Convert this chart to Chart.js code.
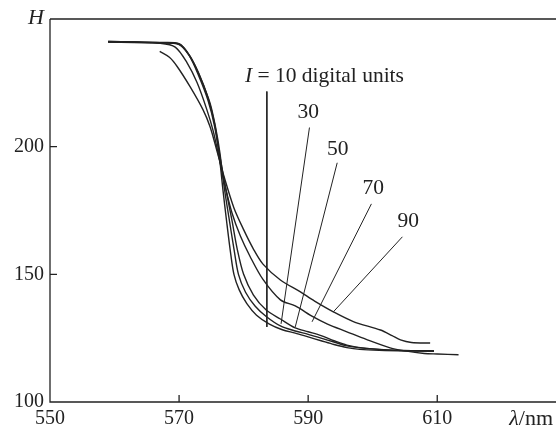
<!DOCTYPE html>
<html>
<head>
<meta charset="utf-8">
<script src="https://cdn.jsdelivr.net/npm/chart.js@4/dist/chart.umd.min.js"></script>
<style>
  html, body { margin: 0; padding: 0; background: #fff; }
  #wrap { width: 556px; height: 429px; position: relative; }
</style>
</head>
<body>
<div id="wrap"><canvas id="chart"></canvas></div>
<script>
// Spectral curves H(lambda) for different intensities I (digital units)
const intensities = [10, 30, 50, 70, 90];

const lambda10 = [559, 563, 567, 570, 571.5, 573, 574.5, 575.5, 576.2, 576.8, 577.4, 578, 578.5, 579.3, 580.5, 582, 584, 586, 588, 590, 592, 594, 596, 598, 601, 605, 609.5];
const h10      = [241.2, 241, 240.8, 240.3, 236, 228, 218, 208, 197, 183, 170, 158, 150, 144, 138.5, 134, 130.5, 128.3, 127, 125.5, 124, 122.5, 121.3, 120.6, 120.2, 120, 120];

const lambda30 = [559, 563, 567, 570, 571.7, 573.3, 574.8, 575.7, 576.3, 577, 577.8, 578.5, 579.2, 580.3, 581.8, 583.5, 585.7, 588, 590, 592, 594, 596, 599, 603, 609.5];
const h30      = [241.2, 241, 240.7, 240.2, 235.5, 227, 217, 207, 198, 184, 171, 160, 150, 143, 137.5, 133.5, 129.8, 127.8, 126.5, 125, 123.5, 122, 121, 120.3, 120];

const lambda50 = [559, 563, 567, 570, 571.5, 573, 574.5, 575.5, 576.2, 577.2, 578.2, 579, 580, 581.5, 583.5, 585.7, 588, 590, 592, 594, 596, 599, 603, 609.5];
const h50      = [241, 240.9, 240.6, 240, 236, 229, 219, 209, 198, 184, 171, 160, 150, 142, 136, 132.5, 129, 127.5, 126, 124, 122.3, 121, 120.3, 120];

const lambda70 = [559, 563, 567, 569.4, 571.2, 572.8, 574.3, 575.3, 576, 577, 578.2, 579.5, 581, 583, 585.7, 588, 590.8, 593, 596, 599, 602.7, 605, 608, 610, 613.3];
const h70      = [241, 240.8, 240.5, 239, 233, 225, 214.5, 206, 198, 186, 174, 165, 157, 148, 140, 137.6, 133.3, 130.5, 127.5, 124.5, 121.2, 120, 119, 118.8, 118.5];

const lambda90 = [567, 568.5, 569.7, 571.7, 573.7, 574.8, 575.8, 577, 578.5, 580, 581.5, 583, 585.7, 588.8, 591, 593.9, 597, 601.2, 603, 604.3, 606, 608.9];
const h90      = [237.3, 235, 231.4, 223.5, 214.5, 207.8, 199, 188, 176, 167.5, 160, 154, 147.8, 143.1, 139.5, 135.3, 131.5, 128.2, 126, 124.3, 123.3, 123.1];

// Leader lines: [labelEnd, curveEnd] for each intensity
const leaderLambda = [[583.6, 583.6], [590.2, 585.8], [594.5, 588.0], [599.8, 590.6], [604.6, 593.9]];
const leaderH      = [[221.6, 129.4], [207.5, 130.6], [193.7, 129.4], [177.6, 131.4], [164.7, 135.3]];

// Label anchors
const labelLambda = [580.2, 590.0, 594.6, 600.1, 605.5];
const labelH      = [227.5, 213.3, 198.8, 183.5, 170.6];

// Axis ticks
const xTicks = [550, 570, 590, 610];
const yTicks = [100, 150, 200];

const INK = '#222';
const FONT = '"Liberation Serif", "DejaVu Serif", serif';
const FS_TICK = 20;
const FS_LABEL = 21.5;
const FS_TITLE = 22;

function toPoints(xs, ys) {
  return xs.map((x, i) => ({ x: x, y: ys[i] }));
}

const curves = [
  toPoints(lambda10, h10),
  toPoints(lambda30, h30),
  toPoints(lambda50, h50),
  toPoints(lambda70, h70),
  toPoints(lambda90, h90)
];

const datasets = [];
curves.forEach((pts, i) => {
  datasets.push({
    label: 'I = ' + intensities[i],
    data: pts,
    borderColor: INK,
    borderWidth: 1.4,
    pointRadius: 0,
    tension: 0.3,
    fill: false
  });
});
leaderLambda.forEach((xs, i) => {
  datasets.push({
    label: 'leader ' + intensities[i],
    data: toPoints(xs, leaderH[i]),
    borderColor: INK,
    borderWidth: 1,
    pointRadius: 0,
    tension: 0,
    fill: false
  });
});

// Custom axes in the style of the printed figure
const axesPlugin = {
  id: 'paperAxes',
  afterDatasetsDraw(chart) {
    const { ctx, chartArea: a, scales: { x, y } } = chart;
    ctx.save();
    ctx.strokeStyle = INK;
    ctx.lineWidth = 1.3;

    // left axis, bottom axis, top frame line
    ctx.beginPath();
    ctx.moveTo(a.left, a.top);
    ctx.lineTo(a.left, a.bottom);
    ctx.lineTo(chart.width, a.bottom);
    ctx.moveTo(a.left, a.top);
    ctx.lineTo(chart.width, a.top);
    ctx.stroke();

    // inward ticks
    ctx.beginPath();
    xTicks.forEach(v => {
      if (v === x.min) return;
      const px = x.getPixelForValue(v);
      ctx.moveTo(px, a.bottom);
      ctx.lineTo(px, a.bottom - 7);
    });
    yTicks.forEach(v => {
      if (v === y.min) return;
      const py = y.getPixelForValue(v);
      ctx.moveTo(a.left, py);
      ctx.lineTo(a.left + 7, py);
    });
    ctx.stroke();

    ctx.fillStyle = INK;
    ctx.font = FS_TICK + 'px ' + FONT;
    ctx.textBaseline = 'middle';

    ctx.textAlign = 'center';
    xTicks.forEach(v => {
      ctx.fillText(String(v), x.getPixelForValue(v), a.bottom + 17);
    });
    ctx.textAlign = 'right';
    yTicks.forEach(v => {
      ctx.fillText(String(v), a.left - 6, y.getPixelForValue(v));
    });

    // axis titles
    ctx.font = 'italic ' + FS_TITLE + 'px ' + FONT;
    ctx.textAlign = 'right';
    ctx.fillText('H', a.left - 6, a.top - 1);
    ctx.textAlign = 'left';
    const lam = 'λ';
    const lw = ctx.measureText(lam).width;
    ctx.font = FS_TITLE + 'px ' + FONT;
    const nw = ctx.measureText('/nm').width;
    const startX = chart.width - 3 - lw - nw;
    ctx.font = 'italic ' + FS_TITLE + 'px ' + FONT;
    ctx.fillText(lam, startX, a.bottom + 17);
    ctx.font = FS_TITLE + 'px ' + FONT;
    ctx.fillText('/nm', startX + lw, a.bottom + 17);

    // curve labels
    labelLambda.forEach((lx, i) => {
      const px = x.getPixelForValue(lx);
      const py = y.getPixelForValue(labelH[i]);
      if (i === 0) {
        ctx.textAlign = 'left';
        ctx.font = 'italic ' + FS_LABEL + 'px ' + FONT;
        ctx.fillText('I', px, py);
        const iw = ctx.measureText('I').width;
        ctx.font = FS_LABEL + 'px ' + FONT;
        ctx.fillText(' = ' + intensities[i] + ' digital units', px + iw, py);
      } else {
        ctx.textAlign = 'center';
        ctx.font = FS_LABEL + 'px ' + FONT;
        ctx.fillText(String(intensities[i]), px, py);
      }
    });
    ctx.restore();
  }
};

new Chart(document.getElementById('chart'), {
  type: 'line',
  data: { datasets: datasets },
  options: {
    responsive: true,
    maintainAspectRatio: false,
    animation: false,
    layout: { padding: { left: 50, right: 0, top: 19, bottom: 27 } },
    plugins: {
      legend: { display: false },
      tooltip: { enabled: false }
    },
    scales: {
      x: { type: 'linear', min: 550, max: 628.4, display: false },
      y: { type: 'linear', min: 100, max: 250, display: false }
    }
  },
  plugins: [axesPlugin]
});
</script>
</body>
</html>
